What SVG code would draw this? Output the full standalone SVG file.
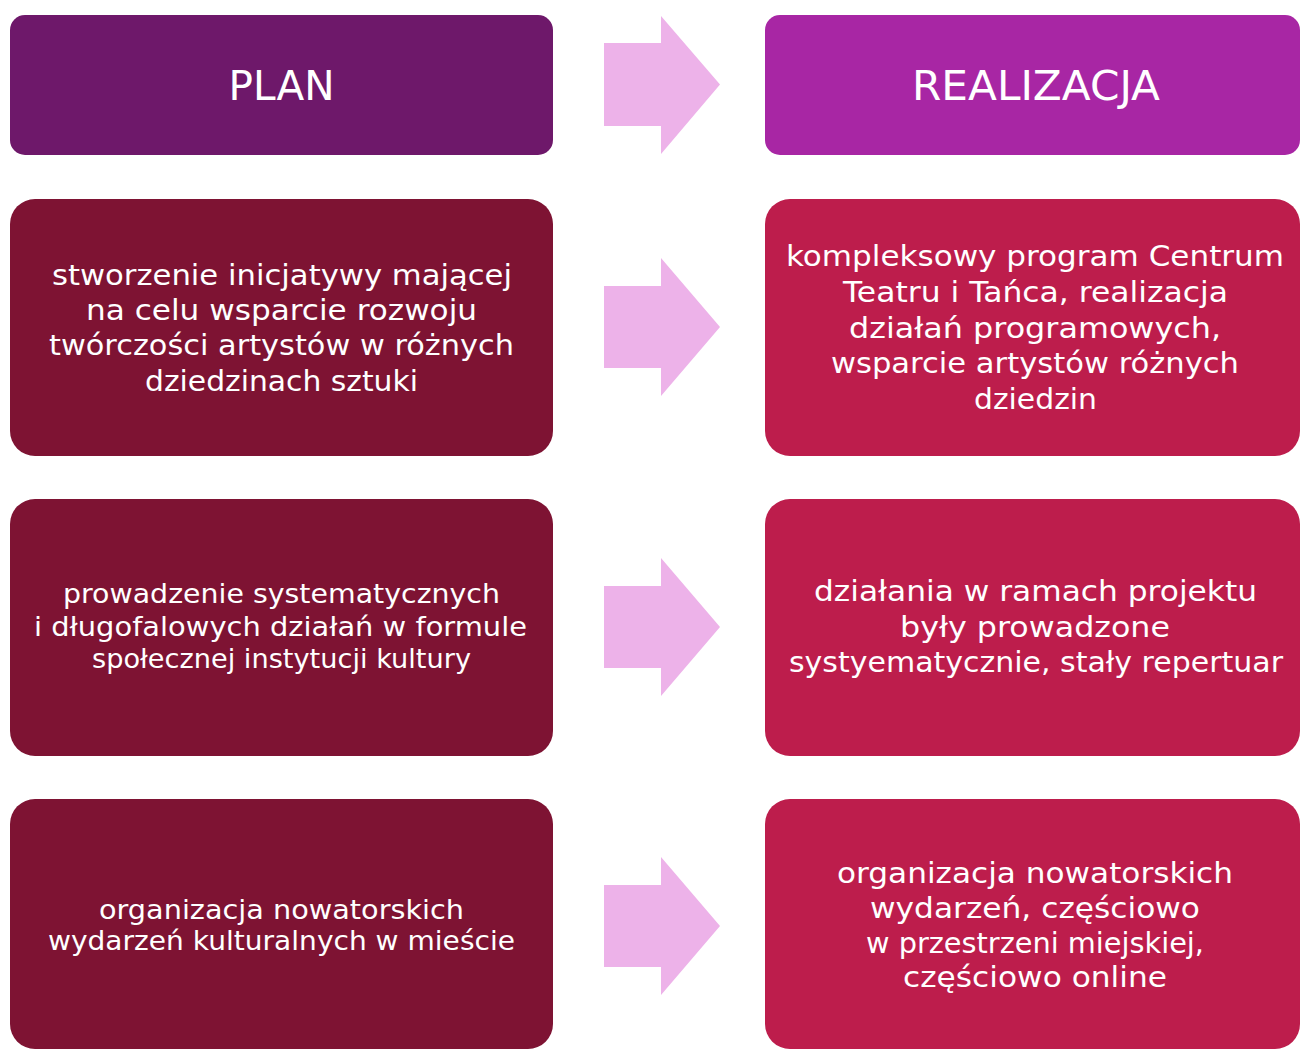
<svg xmlns="http://www.w3.org/2000/svg" width="1300" height="1050" viewBox="0 0 1300 1050">
<style>
.hl{fill:#6E186A}.hr{fill:#A826A4}.bl{fill:#7E1333}.br{fill:#BD1D4C}.ar{fill:#EDB2E9}
text{font-family:"DejaVu Sans","Liberation Sans",sans-serif;fill:#FFFFFF;text-anchor:middle}
.h{font-size:40px}.t{font-size:29px}.s{font-size:27px}
</style>
<rect width="1300" height="1050" fill="#FFFFFF"/>
<g id="connectors">
<polygon class="ar" points="604,43 661,43 661,16 720,84.5 661,154 661,126 604,126"/>
<polygon class="ar" points="604,286 661,286 661,258 720,327 661,396 661,368 604,368"/>
<polygon class="ar" points="604,586 661,586 661,558 720,627 661,696 661,668 604,668"/>
<polygon class="ar" points="604,885 661,885 661,857 720,926 661,995 661,967 604,967"/>
</g>
<g id="plan">
<rect class="hl" x="10" y="15" width="543" height="140" rx="15"/>
<text class="h" x="281.5" y="100" textLength="106" lengthAdjust="spacingAndGlyphs">PLAN</text>
</g>
<g id="realizacja">
<rect class="hr" x="765" y="15" width="535" height="140" rx="15"/>
<text class="h" x="1036" y="100" textLength="248" lengthAdjust="spacingAndGlyphs">REALIZACJA</text>
</g>
<g id="plan1">
<rect class="bl" x="10" y="199" width="543" height="257" rx="25"/>
<text class="t" x="282" y="285" textLength="460" lengthAdjust="spacingAndGlyphs">stworzenie inicjatywy mającej</text>
<text class="t" x="281.5" y="320" textLength="391" lengthAdjust="spacingAndGlyphs">na celu wsparcie rozwoju</text>
<text class="t" x="281.5" y="355" textLength="465" lengthAdjust="spacingAndGlyphs">twórczości artystów w różnych</text>
<text class="t" x="281.5" y="391" textLength="273" lengthAdjust="spacingAndGlyphs">dziedzinach sztuki</text>
</g>
<g id="real1">
<rect class="br" x="765" y="199" width="535" height="257" rx="25"/>
<text class="t" x="1035" y="266" textLength="498" lengthAdjust="spacingAndGlyphs">kompleksowy program Centrum</text>
<text class="t" x="1035.5" y="302" textLength="385" lengthAdjust="spacingAndGlyphs">Teatru i Tańca, realizacja</text>
<text class="t" x="1035" y="338" textLength="372" lengthAdjust="spacingAndGlyphs">działań programowych,</text>
<text class="t" x="1035" y="373" textLength="408" lengthAdjust="spacingAndGlyphs">wsparcie artystów różnych</text>
<text class="t" x="1035.5" y="409" textLength="123" lengthAdjust="spacingAndGlyphs">dziedzin</text>
</g>
<g id="plan2">
<rect class="bl" x="10" y="499" width="543" height="257" rx="25"/>
<text class="s" x="281.5" y="603" textLength="437" lengthAdjust="spacingAndGlyphs">prowadzenie systematycznych</text>
<text class="s" x="280.5" y="636" textLength="493" lengthAdjust="spacingAndGlyphs">i długofalowych działań w formule</text>
<text class="s" x="281.5" y="668" textLength="379" lengthAdjust="spacingAndGlyphs">społecznej instytucji kultury</text>
</g>
<g id="real2">
<rect class="br" x="765" y="499" width="535" height="257" rx="25"/>
<text class="t" x="1035.5" y="601" textLength="443" lengthAdjust="spacingAndGlyphs">działania w ramach projektu</text>
<text class="t" x="1035" y="637" textLength="270" lengthAdjust="spacingAndGlyphs">były prowadzone</text>
<text class="t" x="1036" y="672" textLength="494" lengthAdjust="spacingAndGlyphs">systyematycznie, stały repertuar</text>
</g>
<g id="plan3">
<rect class="bl" x="10" y="799" width="543" height="250" rx="25"/>
<text class="s" x="281.5" y="919" textLength="365" lengthAdjust="spacingAndGlyphs">organizacja nowatorskich</text>
<text class="s" x="281.5" y="950" textLength="467" lengthAdjust="spacingAndGlyphs">wydarzeń kulturalnych w mieście</text>
</g>
<g id="real3">
<rect class="br" x="765" y="799" width="535" height="250" rx="25"/>
<text class="t" x="1035" y="883" textLength="396" lengthAdjust="spacingAndGlyphs">organizacja nowatorskich</text>
<text class="t" x="1035" y="918" textLength="330" lengthAdjust="spacingAndGlyphs">wydarzeń, częściowo</text>
<text class="t" x="1035" y="953" textLength="338" lengthAdjust="spacingAndGlyphs">w przestrzeni miejskiej,</text>
<text class="t" x="1035" y="987" textLength="264" lengthAdjust="spacingAndGlyphs">częściowo online</text>
</g>
</svg>
